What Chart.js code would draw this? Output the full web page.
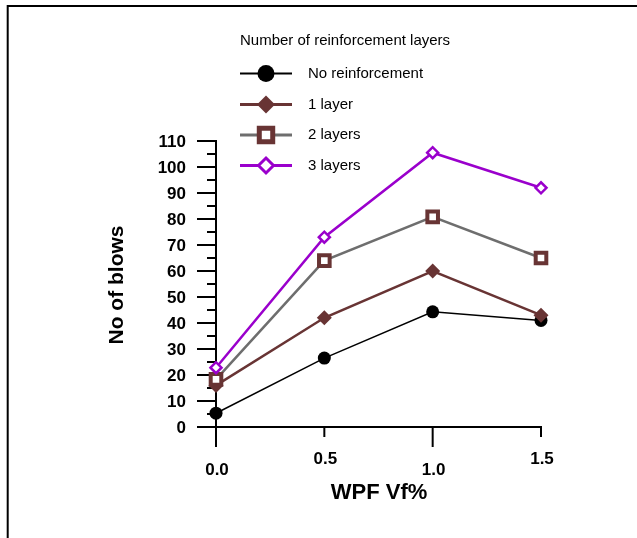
<!DOCTYPE html>
<html><head><meta charset="utf-8">
<script src="https://cdn.jsdelivr.net/npm/chart.js@4.4.1/dist/chart.umd.min.js"></script>
<style>html,body{margin:0;padding:0;background:#fff}#wrap{width:637px;height:538px;position:relative}</style>
</head><body><div id="wrap"><canvas id="c" width="637" height="538"></canvas></div>
<script>
const wpf = [0, 0.5, 1.0, 1.5];
const noReinf = [5.3, 26.5, 44.3, 41];
const layer1 = [16, 42, 60, 43];
const layer2 = [18.3, 64, 80.8, 65];
const layer3 = [22.8, 73, 105.5, 92];
const seriesNames = ['No reinforcement', '1 layer', '2 layers', '3 layers'];
const yTicks = [0,10,20,30,40,50,60,70,80,90,100,110];
const xTicks = [0.0, 0.5, 1.0, 1.5];
const xTickLabels = ['0.0','0.5','1.0','1.5'];
const legendTitle = 'Number of reinforcement layers';
const xTitle = 'WPF Vf%';
const yTitle = 'No of blows';

const BROWN = '#683434', GRAY = '#6e6e6e', PURPLE = '#9a00cc';
const FONT = '"Liberation Sans", Arial, Helvetica, sans-serif';
const pts = arr => wpf.map((x,i)=>({x, y:arr[i]}));

const styles = [
  {line:'#000', lw:1.5, style:'circle', fill:'#000', stroke:'#000', r:6.5, bw:0, lr:8.5, lbw:0},
  {line:BROWN, lw:2.5, style:'diamond', fill:BROWN, stroke:BROWN, r:7.5, bw:0, lr:9, lbw:0},
  {line:GRAY, lw:2.5, style:'square', fill:'#fff', stroke:BROWN, r:7.5, bw:4, lr:9.5, lbw:5},
  {line:PURPLE, lw:2.5, style:'diamondO', fill:'#fff', stroke:PURPLE, r:5.5, bw:2.5, lr:7.5, lbw:3}
];
const dataArrs = [noReinf, layer1, layer2, layer3];
const psMap = {circle:'circle', diamond:'rectRot', square:'rect', diamondO:'rectRot'};

const datasets = dataArrs.map((arr,i)=>({
  label: seriesNames[i],
  data: pts(arr),
  borderColor: styles[i].line,
  borderWidth: styles[i].lw,
  pointStyle: psMap[styles[i].style],
  pointRadius: styles[i].r,
  pointHoverRadius: styles[i].r,
  pointBackgroundColor: styles[i].fill,
  pointBorderColor: styles[i].stroke,
  pointBorderWidth: styles[i].bw,
  tension: 0,
  clip: false,
  order: 3 - i
}));

function seg(ctx,x1,y1,x2,y2){ctx.beginPath();ctx.moveTo(x1,y1);ctx.lineTo(x2,y2);ctx.stroke();}

function marker(ctx, s, x, y){
  ctx.save();
  ctx.fillStyle = s.fill; ctx.strokeStyle = s.stroke; ctx.lineWidth = s.lbw;
  const r = s.lr;
  ctx.beginPath();
  if (s.style==='circle') ctx.arc(x,y,r,0,Math.PI*2);
  else if (s.style==='square') { const h=r*Math.SQRT1_2; ctx.rect(x-h,y-h,2*h,2*h); }
  else { ctx.moveTo(x,y-r); ctx.lineTo(x+r,y); ctx.lineTo(x,y+r); ctx.lineTo(x-r,y); ctx.closePath(); }
  ctx.fill();
  if (s.lbw>0) ctx.stroke();
  ctx.restore();
}

const axesPlugin = {
  id:'axesPlugin',
  beforeDatasetsDraw(chart){
    const ctx = chart.ctx, xs = chart.scales.x, ys = chart.scales.y;
    const x0 = xs.getPixelForValue(0), y0 = ys.getPixelForValue(0);
    const xEnd = xs.getPixelForValue(xTicks[xTicks.length-1]);
    const yTop = ys.getPixelForValue(yTicks[yTicks.length-1]);
    ctx.save();
    ctx.strokeStyle = '#000'; ctx.lineWidth = 2; ctx.lineCap = 'butt';
    seg(ctx, x0, yTop-1, x0, y0+20);
    seg(ctx, x0-19, y0, xEnd+1, y0);
    for (let i=0;i<yTicks.length;i++){
      const py = ys.getPixelForValue(yTicks[i]);
      seg(ctx, x0-19, py, x0, py);
      if (i < yTicks.length-1){
        const pm = ys.getPixelForValue((yTicks[i]+yTicks[i+1])/2);
        seg(ctx, x0-9, pm, x0, pm);
      }
    }
    ctx.fillStyle = '#000';
    ctx.font = 'bold 17px ' + FONT;
    ctx.textAlign = 'right'; ctx.textBaseline = 'middle';
    yTicks.forEach(v => ctx.fillText(String(v), 186, ys.getPixelForValue(v)+1));
    ctx.textAlign = 'center';
    xTicks.forEach((v,i) => {
      const px = xs.getPixelForValue(v);
      const long = (i % 2 === 0);
      if (i>0) seg(ctx, px, y0, px, y0 + (long ? 20 : 10));
      ctx.fillText(xTickLabels[i], px+1, long ? y0+43 : y0+32);
    });
    ctx.font = 'bold 22px ' + FONT;
    ctx.fillText(xTitle, 379, 493);
    ctx.font = 'bold 21px ' + FONT;
    ctx.save();
    ctx.translate(117, 285); ctx.rotate(-Math.PI/2);
    ctx.fillText(yTitle, 0, 0);
    ctx.restore();
    ctx.restore();
  },
  afterDraw(chart){
    const ctx = chart.ctx;
    ctx.save();
    ctx.strokeStyle = '#000'; ctx.lineWidth = 2;
    ctx.beginPath(); ctx.moveTo(7.7, 538); ctx.lineTo(7.7, 6); ctx.lineTo(637, 6); ctx.stroke();
    ctx.fillStyle = '#000';
    ctx.font = '15px ' + FONT;
    ctx.textAlign = 'left'; ctx.textBaseline = 'middle';
    ctx.fillText(legendTitle, 240, 41);
    const ly = [73.5, 104.5, 135, 165.5];
    styles.forEach((s,i)=>{
      ctx.strokeStyle = s.line; ctx.lineWidth = (i===0?2:3);
      seg(ctx, 240, ly[i], 292, ly[i]);
      marker(ctx, s, 266, ly[i]);
      ctx.fillStyle = '#000';
      ctx.fillText(seriesNames[i], 308, ly[i]);
    });
    ctx.restore();
  }
};

new Chart(document.getElementById('c'), {
  type: 'line',
  data: { datasets },
  options: {
    responsive: false,
    animation: false,
    devicePixelRatio: 1,
    layout: { padding: { left: 216, right: 96, top: 141, bottom: 111 } },
    scales: {
      x: { type:'linear', min: 0, max: 1.5, display: false },
      y: { type:'linear', min: 0, max: 110, display: false }
    },
    plugins: { legend: { display:false }, tooltip: { enabled:false } }
  },
  plugins: [axesPlugin]
});
</script>
</body></html>
